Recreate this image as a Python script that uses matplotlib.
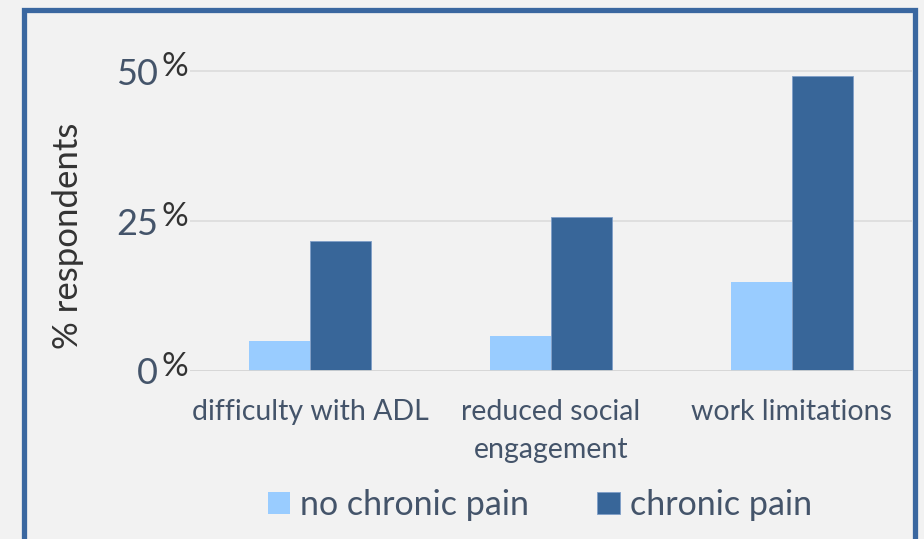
import matplotlib
matplotlib.use("Agg")
import matplotlib.pyplot as plt
import numpy as np
from matplotlib.patches import Rectangle

categories = ["difficulty with ADL", "reduced social\nengagement", "work limitations"]
series_names = ["no chronic pain", "chronic pain"]
no_pain = [5.0, 5.8, 14.8]
chronic = [21.7, 25.7, 49.2]
yticks = [0, 25, 50]

BG = "#f2f2f2"
TXT = "#44546a"
LIGHT = "#99ccff"
DARK = "#386699"
FONT = "Lato"

W, H = 924, 539
fig = plt.figure(figsize=(W/100, H/100), dpi=100, facecolor=BG)
ax = fig.add_axes([190/W, (H-371)/H, (912-190)/W, (371-40)/H])
ax.set_facecolor(BG)

x = np.arange(len(categories))
bw = 0.253
b1 = ax.bar(x - bw/2, no_pain, bw, color=LIGHT, zorder=3, label=series_names[0])
b2 = ax.bar(x + bw/2, chronic, bw, color=DARK, edgecolor="#7f9fc8", linewidth=0.6, zorder=3, label=series_names[1])

ax.set_xlim(-0.5, len(categories) - 0.5)
ax.set_ylim(0, 55.2)
ax.set_yticks(yticks)
ax.set_yticklabels([str(v) for v in yticks], fontsize=26, color=TXT, family=FONT)
ax.tick_params(axis="y", length=0, pad=23)
ax.tick_params(axis="x", length=0, pad=20)
for v in yticks:
    ax.annotate("%", xy=(0, v), xycoords=("axes fraction", "data"), xytext=(-1.5, 3),
                textcoords="offset points", ha="right", va="center", fontsize=24,
                color="#333333", family=FONT)
ax.set_xticks(x)
ax.set_xticklabels(categories, fontsize=20.5, color=TXT, family=FONT, va="top", linespacing=1.6)
for lab in ax.get_xticklabels():
    lab.set_multialignment("center")

for v in yticks[1:]:
    ax.axhline(v, color="#dcdcdc", lw=1.2, zorder=1)
ax.axhline(0, color="#d4d4d4", lw=2, zorder=4)
for s in ax.spines.values():
    s.set_visible(False)

ax.set_ylabel("% respondents", fontsize=25, color="#333333", family=FONT)
ax.yaxis.set_label_coords((84-190)/722, (371-236)/331)

leg = fig.legend(handles=[b1, b2], loc="center", bbox_to_anchor=(540/W, (H-505)/H),
                 ncol=2, frameon=False, handlelength=0.65, handleheight=0.65,
                 handletextpad=0.3, columnspacing=2.0, prop={"family": FONT, "size": 24.5})
for t in leg.get_texts():
    t.set_color(TXT)

fig.patches.append(Rectangle((23.5/W, -0.1), (915-23.5)/W, (H-9.5)/H + 0.1,
                             transform=fig.transFigure, fill=False,
                             edgecolor="#3a67a0", lw=3.8, zorder=10))

fig.savefig("out.png", dpi=100, facecolor=BG)
